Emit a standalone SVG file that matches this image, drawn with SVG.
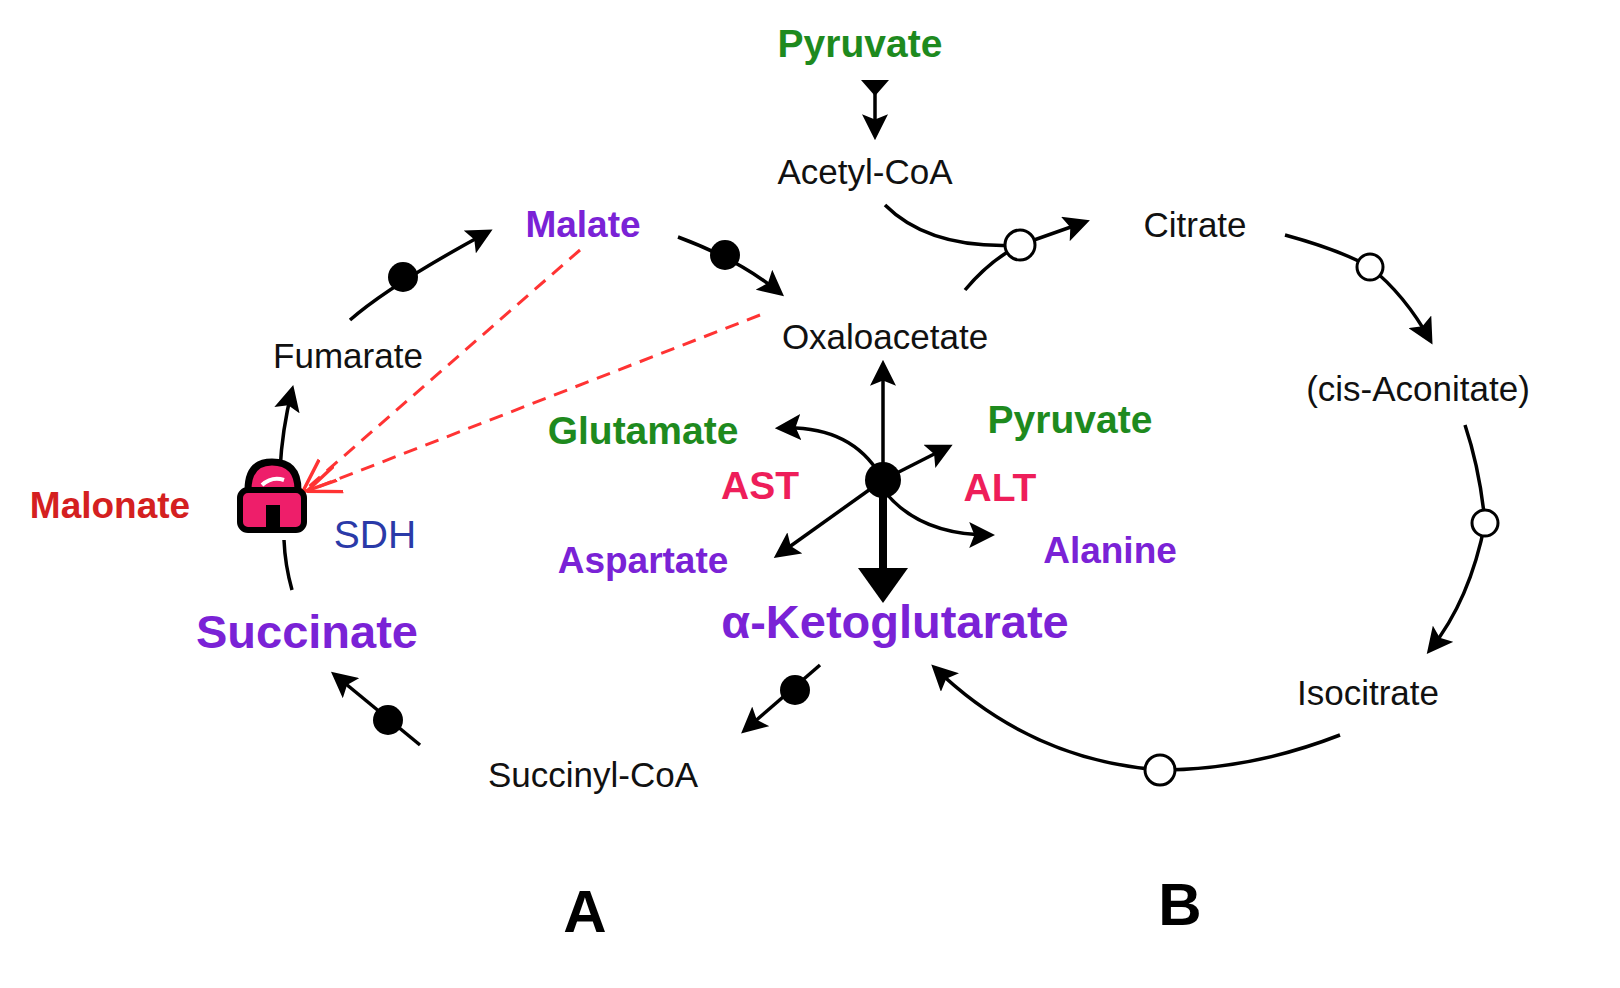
<svg xmlns="http://www.w3.org/2000/svg" width="1620" height="988" viewBox="0 0 1620 988">
<style>
text{font-family:"Liberation Sans",Arial,sans-serif;text-anchor:middle}
.k{fill:#111;font-size:35px}
.g{fill:#1e8a1e;font-size:39px;font-weight:bold}
.p{fill:#7a22d6;font-size:37px;font-weight:bold}
.r{fill:#ee1e5a;font-size:39px;font-weight:bold}
.ln{fill:none;stroke:#000;stroke-width:3.5}
.oc{fill:#fff;stroke:#000;stroke-width:3}
.dash{fill:none;stroke:#f33;stroke-width:3;stroke-dasharray:14 9}
</style>
<defs>
<marker id="a" viewBox="0 0 10 10" refX="8" refY="5" markerWidth="26" markerHeight="26" markerUnits="userSpaceOnUse" orient="auto"><path d="M0,0L10,5L0,10L2,5z" fill="#000"/></marker>
<marker id="rd" viewBox="0 0 10 10" refX="9" refY="5" markerWidth="34" markerHeight="34" markerUnits="userSpaceOnUse" orient="auto"><path d="M0,1L10,5L0,9" fill="none" stroke="#f33" stroke-width="1"/></marker>
</defs>
<rect width="1620" height="988" fill="#fff"/>
<g id="connectors">
<path class="ln" d="M885,205 Q930,250 1020,245 L1085,222" marker-end="url(#a)"/>
<path class="ln" d="M965,290 Q990,260 1020,245"/>
<path class="ln" d="M1285,235 Q1340,250 1370,267 Q1405,295 1430,340" marker-end="url(#a)"/>
<path class="ln" d="M1465,425 Q1480,470 1485,523 Q1470,600 1430,650" marker-end="url(#a)"/>
<path class="ln" d="M1340,735 Q1250,770 1160,770 Q1030,760 935,668" marker-end="url(#a)"/>
<path class="ln" d="M820,665 L745,730" marker-end="url(#a)"/>
<path class="ln" d="M420,745 L335,675" marker-end="url(#a)"/>
<path class="ln" d="M292,590 Q285,565 284,540"/>
<path class="ln" d="M280,470 Q282,430 292,390" marker-end="url(#a)"/>
<path class="ln" d="M350,320 Q390,285 488,232" marker-end="url(#a)"/>
<path class="ln" d="M678,237 Q740,260 780,293" marker-end="url(#a)"/>
<path d="M875,80 L875,135" class="ln" marker-end="url(#a)"/>
<path d="M861,80 L889,80 L875,96z" fill="#000"/>
<path class="dash" d="M580,250 L305,490" marker-end="url(#rd)"/>
<path class="dash" d="M760,315 L310,490" marker-end="url(#rd)"/>
<path class="ln" d="M883,480 L883,365" marker-end="url(#a)"/>
<path d="M883,480 L883,575" stroke="#000" stroke-width="8"/>
<path d="M858,568 L908,568 L883,603z" fill="#000"/>
<path class="ln" d="M880,475 Q850,425 780,428" marker-end="url(#a)"/>
<path class="ln" d="M883,480 L948,447" marker-end="url(#a)"/>
<path class="ln" d="M883,480 L778,555" marker-end="url(#a)"/>
<path class="ln" d="M885,492 Q920,535 990,535" marker-end="url(#a)"/>
<circle class="oc" cx="1020" cy="245" r="15"/>
<circle class="oc" cx="1370" cy="267" r="13"/>
<circle class="oc" cx="1485" cy="523" r="13"/>
<circle class="oc" cx="1160" cy="770" r="15"/>
<circle cx="795" cy="690" r="15"/>
<circle cx="388" cy="720" r="15"/>
<circle cx="403" cy="277" r="15"/>
<circle cx="725" cy="255" r="15"/>
<circle cx="883" cy="480" r="18"/>
</g>
<g id="lock">
<path d="M248,490 Q248,462 272,462 Q298,462 298,490" fill="#ee1e6a" stroke="#000" stroke-width="7"/>
<path d="M262,485 Q272,476 284,480" stroke="#fff" stroke-width="4" fill="none"/>
<rect x="240" y="490" width="64" height="40" rx="8" fill="#ee1e6a" stroke="#000" stroke-width="6"/>
<rect x="266" y="505" width="14" height="27" fill="#000"/>
</g>
<g id="labels">
<text class="g" x="860" y="57">Pyruvate</text>
<text class="k" x="865" y="184">Acetyl-CoA</text>
<text class="k" x="1195" y="237">Citrate</text>
<text class="p" x="583" y="237">Malate</text>
<text class="k" x="348" y="368">Fumarate</text>
<text class="k" x="885" y="349">Oxaloacetate</text>
<text class="k" x="1418" y="401">(cis-Aconitate)</text>
<text class="g" x="643" y="444">Glutamate</text>
<text class="g" x="1070" y="433">Pyruvate</text>
<text class="r" x="760" y="499">AST</text>
<text class="r" x="1000" y="501">ALT</text>
<text x="110" y="518" style="fill:#d42020;font-size:37px;font-weight:bold">Malonate</text>
<text x="375" y="548" style="fill:#2a3aa8;font-size:39px">SDH</text>
<text class="p" x="643" y="573">Aspartate</text>
<text class="p" x="1110" y="563">Alanine</text>
<text class="p" x="307" y="648" style="font-size:47px">Succinate</text>
<text class="p" x="895" y="638" style="font-size:47px">α-Ketoglutarate</text>
<text class="k" x="1368" y="705">Isocitrate</text>
<text class="k" x="593" y="787">Succinyl-CoA</text>
<text x="585" y="932" style="font-size:60px;font-weight:bold">A</text>
<text x="1180" y="925" style="font-size:60px;font-weight:bold">B</text>
</g>
</svg>
